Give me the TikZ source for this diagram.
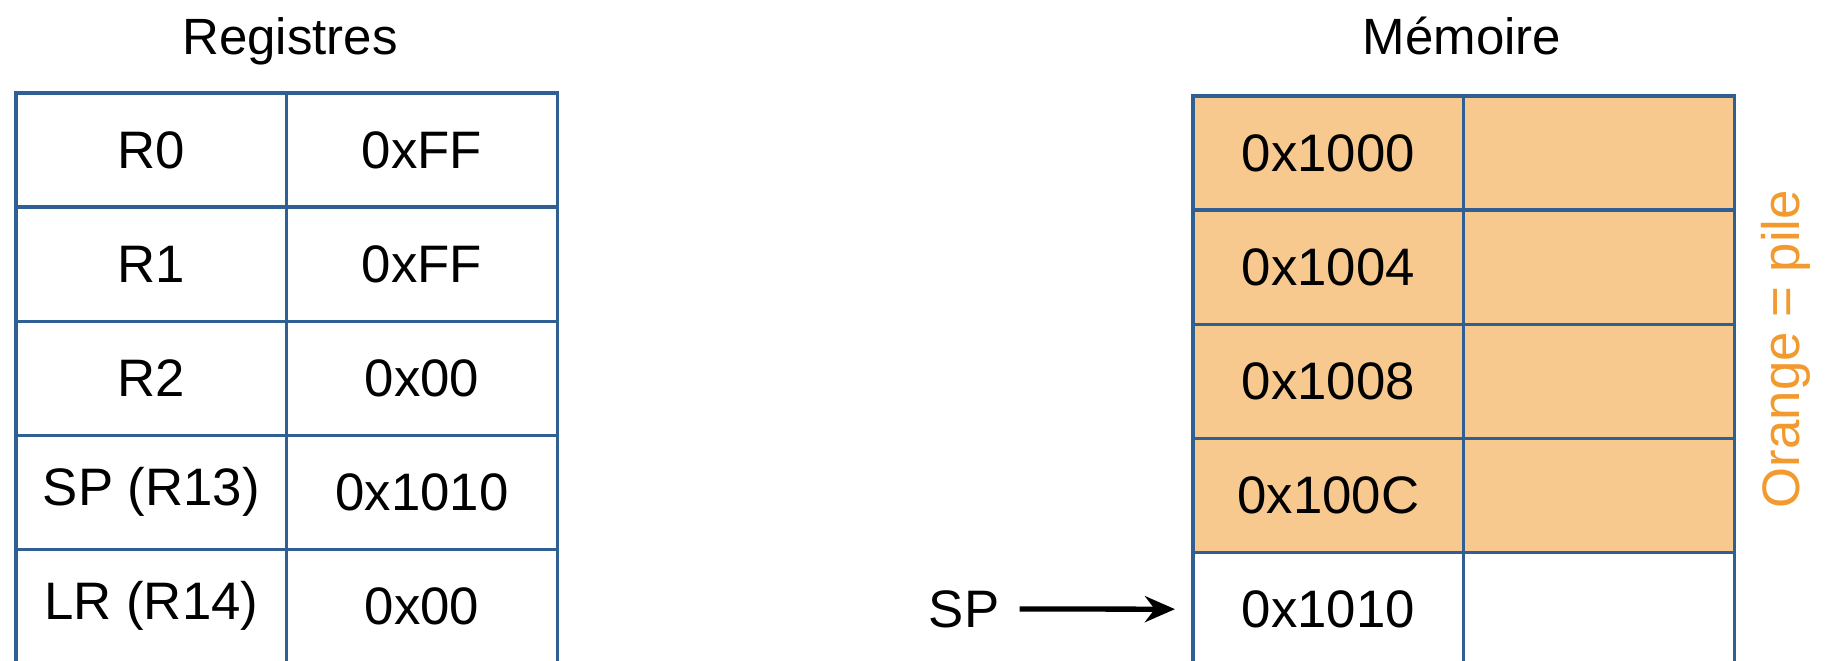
\documentclass[tikz,border=0pt]{standalone}
\usepackage{fontspec}
\setmainfont{Liberation Sans}
\definecolor{cellblue}{HTML}{2F5F93}
\definecolor{stackfill}{HTML}{F7C98F}
\definecolor{stacktext}{HTML}{F29A2E}
\usetikzlibrary{
    arrows.meta,
    positioning
}
\tikzstyle{cell} = [
    rectangle,
    draw=cellblue,
    line width=0.9pt,
    minimum width=2.705cm,
    minimum height=1.14cm,
    inner sep=0pt,
    outer sep=0pt,
    font=\fontsize{15}{18}\selectfont
]
\tikzstyle{stack} = [
    cell,
    fill=stackfill
]
\tikzstyle{title} = [
    anchor=base,
    font=\fontsize{14.5}{17}\selectfont
]
\tikzstyle{arrow} = [
    -{Stealth[length=0.3cm, width=0.26cm]},
    line width=1.5pt,
    draw=black
]

\begin{document}
\begin{tikzpicture}[x=0.01cm, y=-0.01cm, node distance=0pt]
    \useasboundingbox (0,0) rectangle (1826,661);

    % Registres
    \node[title] (regtitle) at (290,55) {Registres};
    \node[cell, anchor=north west] (r0name) at (16,93) {R0};
    \node[cell, right=of r0name] (r0val) {0xFF};
    \node[cell, below=of r0name] (r1name) {R1};
    \node[cell, right=of r1name] (r1val) {0xFF};
    \node[cell, below=of r1name] (r2name) {R2};
    \node[cell, right=of r2name] (r2val) {0x00};
    \node[cell, below=of r2name] (spname) {SP (R13)};
    \node[cell, right=of spname] (spval) {0x1010};
    \node[cell, below=of spname] (lrname) {LR (R14)};
    \node[cell, right=of lrname] (lrval) {0x00};

    % Memoire
    \node[title] (memtitle) at (1462,55) {Mémoire};
    \node[stack, anchor=north west] (m0addr) at (1193,96) {0x1000};
    \node[stack, right=of m0addr] (m0val) {};
    \node[stack, below=of m0addr] (m1addr) {0x1004};
    \node[stack, right=of m1addr] (m1val) {};
    \node[stack, below=of m1addr] (m2addr) {0x1008};
    \node[stack, right=of m2addr] (m2val) {};
    \node[stack, below=of m2addr] (m3addr) {0x100C};
    \node[stack, right=of m3addr] (m3val) {};
    \node[cell, below=of m3addr] (m4addr) {0x1010};
    \node[cell, right=of m4addr] (m4val) {};

    % Pointeur de pile
    \node[font=\fontsize{15}{18}\selectfont] (sp) at (964,609) {SP};
    \draw[arrow, shorten <=0.08cm, shorten >=0.18cm] (sp) -- (m4addr);

    % Legende
    \node[rotate=90, text=stacktext, font=\fontsize{15}{18}\selectfont] (pilelabel) at (1786,349) {Orange = pile};
\end{tikzpicture}
\end{document}
